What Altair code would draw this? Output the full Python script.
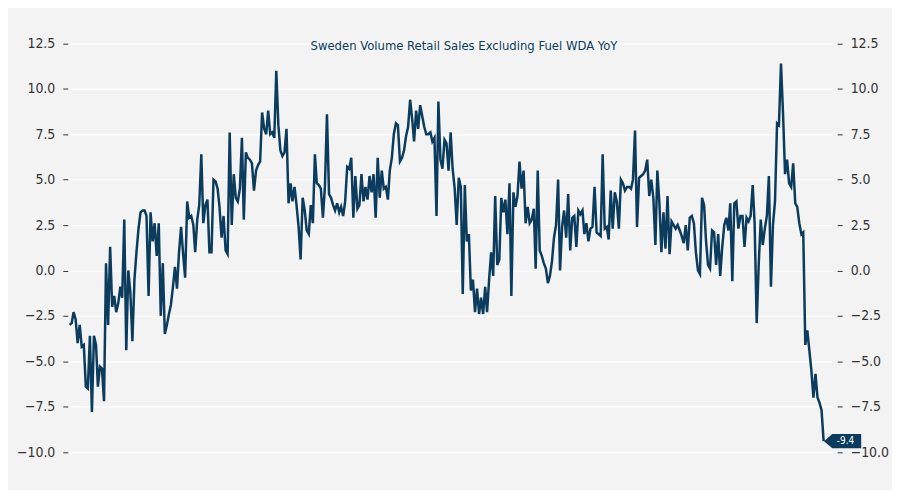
import pandas as pd
import altair as alt

# monthly YoY %, one list per year
y1992 = [-3.0, -2.9, -2.3, -2.7, -4.0, -3.0, -4.2, -4.1, -6.4, -6.5, -3.6, -7.8]
y1993 = [-3.6, -4.1, -6.4, -5.3, -5.4, -7.2, 0.4, -3.0, 1.3, -2.0, -1.4, -2.3]
y1994 = [-1.8, -0.9, -1.5, 2.8, -4.4, 0.0, -1.2, -3.9, -0.5, 1.0, 2.3, 3.2]
y1995 = [3.3, 3.3, 3.0, -1.4, 3.2, 1.6, 2.6, 0.8, 2.6, -2.5, 0.4, -3.5]
y1996 = [-3.0, -2.4, -1.9, -0.9, 0.2, -1.0, 1.0, 2.4, 0.9, -0.4, 3.8, 2.9]
y1997 = [3.0, 2.5, 1.0, 2.8, 3.6, 6.4, 2.6, 3.6, 3.9, 1.0, 1.0, 5.0]
y1998 = [4.9, 4.5, 3.5, 1.8, 3.0, 1.1, 0.9, 7.6, 2.5, 5.3, 4.0, 3.8]
y1999 = [4.5, 7.3, 2.8, 6.5, 6.2, 6.1, 5.9, 4.4, 5.5, 5.8, 6.0, 8.7]
y2000 = [7.8, 7.5, 8.8, 7.5, 7.6, 7.3, 11.0, 8.0, 6.6, 6.3, 6.5, 7.8]
y2001 = [3.7, 4.8, 3.8, 4.6, 3.6, 2.4, 0.6, 4.0, 3.3, 2.2, 2.0, 3.6]
y2002 = [2.6, 6.4, 4.8, 4.7, 4.5, 2.9, 4.6, 8.6, 4.2, 4.0, 3.6, 3.3]
y2003 = [3.7, 3.2, 3.5, 3.0, 3.8, 5.7, 5.6, 6.2, 2.9, 5.2, 3.4, 3.6]
y2004 = [5.3, 3.8, 4.6, 3.9, 5.2, 4.3, 5.3, 2.9, 6.2, 4.0, 5.5, 4.5]
y2005 = [4.6, 3.9, 5.5, 6.2, 7.5, 8.1, 8.0, 6.0, 6.2, 6.6, 7.4, 7.9]
y2006 = [9.4, 8.3, 7.1, 8.8, 7.8, 9.1, 8.5, 7.9, 7.5, 7.5, 7.6, 7.1]
y2007 = [7.3, 3.0, 9.3, 6.1, 5.6, 7.2, 7.0, 5.5, 7.6, 5.6, 4.5, 2.5]
y2008 = [5.1, 4.6, -1.3, 4.7, 1.6, 2.0, -1.1, -0.5, -2.3, -1.0, -2.4, -1.5]
y2009 = [-2.4, -0.9, -2.3, -0.5, 1.0, -0.3, 4.1, 0.3, 0.6, 4.0, 3.2, 3.9]
y2010 = [2.0, 4.8, -1.4, 4.3, 3.5, 4.1, 6.0, 4.5, 5.5, 2.6, 3.5, 2.6]
y2011 = [2.8, 3.4, 0.1, 5.5, 1.1, 0.8, 0.4, 0.1, -0.7, -0.3, 0.5, 1.8]
y2012 = [2.5, 5.0, 0.0, 2.4, 3.3, 1.8, 4.2, 1.1, 2.9, 3.0, 1.3, 3.3]
y2013 = [3.1, 3.3, 2.0, 2.6, 1.6, 2.3, 2.4, 4.6, 2.1, 2.0, 1.9, 6.4]
y2014 = [2.3, 2.4, 1.7, 4.4, 2.3, 4.3, 3.8, 2.3, 5.0, 4.8, 4.4, 4.6]
y2015 = [4.6, 4.5, 5.0, 7.7, 2.4, 5.1, 5.2, 5.3, 5.5, 6.1, 4.1, 5.0]
y2016 = [4.0, 1.4, 5.5, 3.7, 1.0, 3.2, 1.2, 4.1, 0.9, 2.7, 2.5, 2.3]
y2017 = [2.5, 2.2, 1.9, 1.5, 2.5, 1.1, 2.9, 3.0, 2.6, 1.0, 0.0, -0.2]
y2018 = [4.0, 3.6, 1.7, 0.3, 0.1, 2.2, 2.1, 0.3, 2.0, -0.3, 1.3, 2.5]
y2019 = [2.9, 2.2, 3.7, -0.6, 3.7, 3.8, 2.3, 3.0, 3.0, 1.3, 2.9, 2.7]
y2020 = [3.0, 4.7, 2.6, -2.9, 0.3, 2.8, 1.4, 2.3, 3.0, 5.2, -0.9, 2.5]
y2021 = [3.8, 8.1, 8.0, 11.4, 8.7, 5.3, 6.1, 4.8, 4.6, 5.9, 3.7, 3.5]
y2022 = [2.6, 2.0, 2.1, -4.1, -3.3, -4.4, -5.5, -7.0, -5.7, -7.0, -7.3, -7.7]
y2023 = [-9.4]

values = (y1992 + y1993 + y1994 + y1995 + y1996 + y1997 + y1998 + y1999 + y2000
          + y2001 + y2002 + y2003 + y2004 + y2005 + y2006 + y2007 + y2008 + y2009
          + y2010 + y2011 + y2012 + y2013 + y2014 + y2015 + y2016 + y2017 + y2018
          + y2019 + y2020 + y2021 + y2022 + y2023)

df = pd.DataFrame({
    "date": pd.date_range("1992-01-01", periods=len(values), freq="MS"),
    "yoy": values,
})
last = df.tail(1).assign(label=lambda d: d["yoy"].map(lambda v: f"{v:.1f}"))

navy = "#0b3c5d"
font = "DejaVu Sans Condensed"
year_ticks = [alt.DateTime(year=y, month=1, date=1) for y in [1995, 2000, 2005, 2010, 2015, 2020]]

xscale = alt.Scale(domain=[alt.DateTime(year=1991, month=12, date=5),
                           alt.DateTime(year=2023, month=5, date=10)])
x = alt.X("date:T", title=None, scale=xscale,
          axis=alt.Axis(values=year_ticks, format="%Y", grid=False, domain=False,
                        tickSize=4, tickColor="#333", labelFontSize=14, labelColor="#333",
                        labelPadding=6, offset=2))
yscale = alt.Scale(domain=[-10.4, 13.2], nice=False)
ticks = [-10, -7.5, -5, -2.5, 0, 2.5, 5, 7.5, 10, 12.5]

line = alt.Chart(df).mark_line(color=navy, strokeWidth=2.5).encode(
    x=x,
    y=alt.Y("yoy:Q", title=None, scale=yscale,
            axis=alt.Axis(values=ticks, format=".1f", orient="left", gridColor="white",
                          gridWidth=1.2, domain=False, tickSize=5, tickColor="#333",
                          labelFontSize=14, labelColor="#333", labelPadding=8)),
)

right_axis = alt.Chart(df).mark_line(opacity=0).encode(
    x=alt.X("date:T", scale=xscale, axis=None),
    y=alt.Y("yoy:Q", title=None, scale=yscale,
            axis=alt.Axis(values=ticks, format=".1f", orient="right", grid=False,
                          domain=False, tickSize=5, tickColor="#333", offset=5,
                          labelFontSize=14, labelColor="#333", labelPadding=8)),
)

tag = alt.Chart(last).mark_point(
    shape="M-1,0 L-0.55,-0.38 L1,-0.38 L1,0.38 L-0.55,0.38 Z",
    filled=True, opacity=1, color=navy, size=1400, xOffset=19,
).encode(x=alt.X("date:T", scale=xscale, axis=None),
         y=alt.Y("yoy:Q", scale=yscale, axis=None))

tag_text = alt.Chart(last).mark_text(color="white", fontSize=10, font=font, dx=22).encode(
    x=alt.X("date:T", scale=xscale, axis=None),
    y=alt.Y("yoy:Q", scale=yscale, axis=None),
    text="label:N")

chart = alt.layer(line, right_axis, tag, tag_text).properties(
    width=767, height=430,
    padding={"left": 60, "top": 22, "right": 60, "bottom": 30},
    autosize=alt.AutoSizeParams(type="none"),
    background="#f3f3f3",
    title=alt.Title("Sweden Volume Retail Sales Excluding Fuel WDA YoY", fontSize=13,
                    font=font, fontWeight="normal", color=navy, offset=-22, dx=14),
).resolve_axis(y="independent").configure_view(stroke=None, fill="#f3f3f3").configure_axis(labelFont=font)

chart.save("out.html", embed_options={"renderer": "svg", "actions": False})
